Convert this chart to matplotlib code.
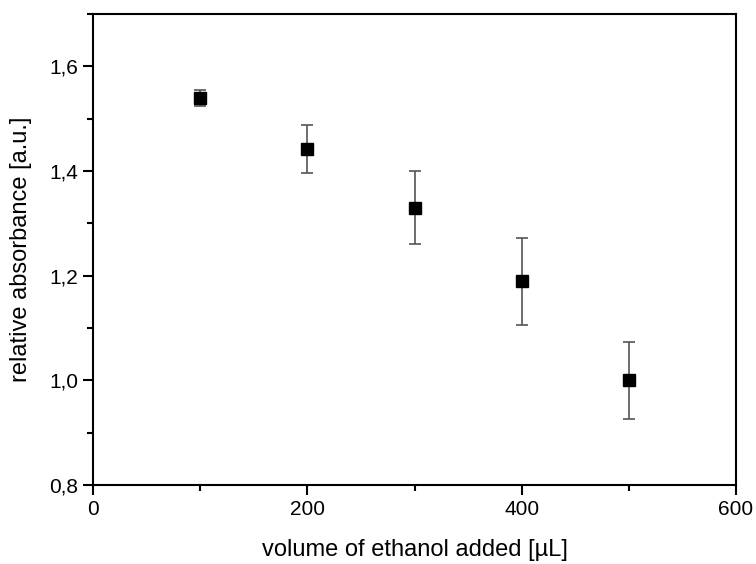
import matplotlib
matplotlib.use("Agg")
import matplotlib.pyplot as plt
from matplotlib.ticker import MultipleLocator, FuncFormatter

plt.rcParams['font.family'] = ['Liberation Sans', 'DejaVu Sans']

# data
volume = [100, 200, 300, 400, 500]
absorbance = [1.54, 1.442, 1.33, 1.189, 1.0]
err = [0.015, 0.046, 0.07, 0.083, 0.073]

fig = plt.figure(figsize=(7.56, 5.64), dpi=100)
ax = fig.add_axes([0.1234, 0.140, 0.8498, 0.835])

ax.errorbar(volume, absorbance, yerr=err, fmt='s', color='black',
            markersize=8, ecolor='#555555', elinewidth=1.2,
            capsize=4.5, capthick=1.2)

ax.set_xlim(0, 600)
ax.set_ylim(0.8, 1.7)
ax.xaxis.set_major_locator(MultipleLocator(200))
ax.xaxis.set_minor_locator(MultipleLocator(100))
ax.yaxis.set_major_locator(MultipleLocator(0.2))
ax.yaxis.set_minor_locator(MultipleLocator(0.1))
ax.yaxis.set_major_formatter(FuncFormatter(lambda v, p: f"{v:.1f}".replace('.', ',')))

for s in ax.spines.values():
    s.set_linewidth(1.5)
ax.tick_params(which='major', direction='out', length=7, width=1.5, labelsize=15, pad=4)
ax.tick_params(which='minor', direction='out', length=4, width=1.5)

ax.set_xlabel("volume of ethanol added [µL]", fontsize=17, labelpad=14)
ax.set_ylabel("relative absorbance [a.u.]", fontsize=17, labelpad=12)

fig.savefig("out.png", dpi=100)
